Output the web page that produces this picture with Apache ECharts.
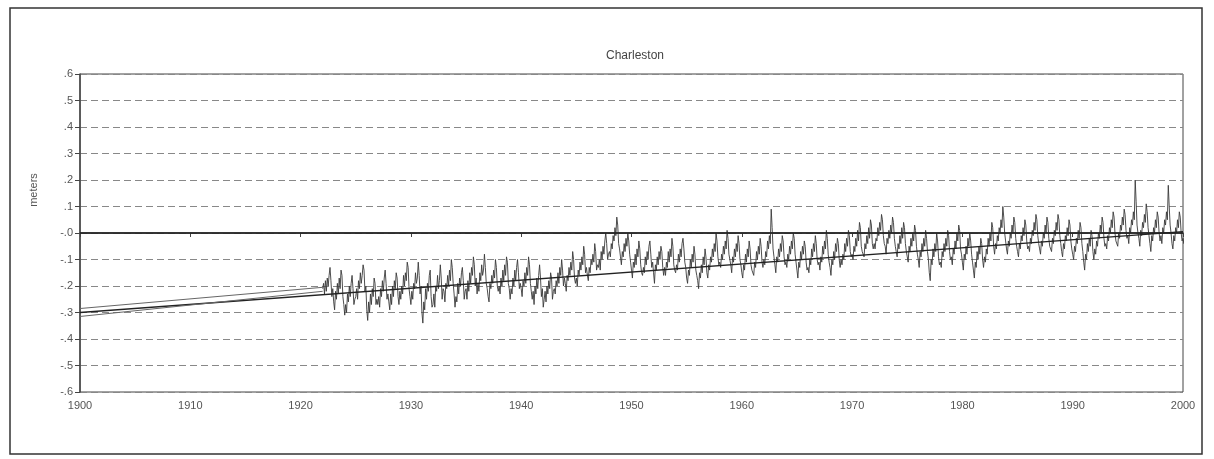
<!DOCTYPE html>
<html>
<head>
<meta charset="utf-8">
<script src="https://cdn.jsdelivr.net/npm/echarts@6/dist/echarts.min.js"></script>
<style>
html,body{margin:0;padding:0;background:#fff;}
#chart{width:1214px;height:459px;}
</style>
</head>
<body>
<div id="chart"></div>
<script>
// Monthly mean sea level, metres, starting January 1922
var startYear = 1922;
var perYear = 12;
var sl1920s = [
 -.21,-.19,-.23,-.18,-.22,-.17,-.20,-.16,-.13,-.18,-.24,-.21,
 -.26,-.29,-.22,-.25,-.19,-.23,-.17,-.21,-.14,-.16,-.24,-.27,
 -.31,-.27,-.30,-.23,-.26,-.20,-.24,-.19,-.16,-.21,-.27,-.25,
 -.24,-.21,-.25,-.18,-.21,-.15,-.19,-.16,-.12,-.14,-.22,-.20,
 -.29,-.33,-.26,-.30,-.23,-.27,-.21,-.24,-.17,-.19,-.27,-.25,
 -.27,-.24,-.28,-.21,-.24,-.18,-.22,-.17,-.14,-.19,-.25,-.23,
 -.26,-.29,-.23,-.27,-.20,-.24,-.18,-.21,-.15,-.17,-.24,-.27,
 -.22,-.25,-.20,-.23,-.16,-.20,-.15,-.18,-.11,-.13,-.21,-.24
];
var sl1930s = [
 -.27,-.22,-.25,-.19,-.21,-.15,-.19,-.17,-.11,-.16,-.23,-.20,
 -.30,-.34,-.26,-.29,-.21,-.25,-.19,-.22,-.16,-.14,-.24,-.28,
 -.27,-.23,-.28,-.20,-.22,-.16,-.21,-.18,-.12,-.17,-.25,-.21,
 -.22,-.26,-.19,-.21,-.16,-.20,-.14,-.18,-.10,-.13,-.19,-.23,
 -.28,-.24,-.26,-.19,-.23,-.17,-.20,-.15,-.13,-.18,-.25,-.22,
 -.21,-.25,-.18,-.22,-.15,-.19,-.13,-.16,-.09,-.12,-.20,-.17,
 -.23,-.19,-.22,-.15,-.18,-.12,-.16,-.14,-.08,-.13,-.19,-.21,
 -.24,-.26,-.19,-.21,-.16,-.19,-.14,-.17,-.10,-.13,-.20,-.22,
 -.20,-.23,-.17,-.20,-.14,-.18,-.12,-.16,-.09,-.11,-.19,-.21,
 -.25,-.21,-.23,-.17,-.20,-.14,-.18,-.13,-.10,-.15,-.21,-.19
];
var sl1940s = [
 -.21,-.24,-.18,-.20,-.15,-.19,-.13,-.16,-.09,-.12,-.19,-.22,
 -.25,-.22,-.27,-.20,-.23,-.17,-.21,-.16,-.12,-.17,-.24,-.21,
 -.28,-.25,-.22,-.26,-.20,-.23,-.18,-.21,-.15,-.17,-.25,-.22,
 -.21,-.23,-.18,-.20,-.15,-.19,-.13,-.16,-.10,-.14,-.20,-.17,
 -.19,-.22,-.16,-.18,-.13,-.16,-.11,-.14,-.07,-.10,-.17,-.19,
 -.17,-.20,-.14,-.16,-.11,-.14,-.09,-.12,-.05,-.08,-.15,-.13,
 -.16,-.18,-.13,-.15,-.10,-.12,-.08,-.11,-.04,-.07,-.14,-.12,
 -.13,-.10,-.14,-.07,-.10,-.05,-.08,-.03,.00,-.04,-.10,-.08,
 -.07,-.09,-.04,-.06,-.01,-.03,.02,-.01,.06,.03,-.04,-.06,
 -.09,-.12,-.07,-.09,-.04,-.07,-.02,-.05,.00,-.03,-.08,-.11
];
var sl1950s = [
 -.14,-.17,-.11,-.13,-.08,-.12,-.06,-.09,-.03,-.06,-.12,-.15,
 -.16,-.13,-.15,-.09,-.12,-.07,-.10,-.05,-.03,-.08,-.13,-.11,
 -.15,-.19,-.12,-.14,-.09,-.12,-.07,-.10,-.05,-.07,-.13,-.16,
 -.13,-.16,-.11,-.13,-.07,-.11,-.06,-.09,-.02,-.05,-.12,-.14,
 -.15,-.12,-.14,-.08,-.11,-.06,-.09,-.04,-.02,-.06,-.11,-.13,
 -.17,-.19,-.14,-.16,-.10,-.13,-.08,-.11,-.05,-.08,-.14,-.16,
 -.18,-.21,-.15,-.17,-.12,-.15,-.09,-.12,-.06,-.09,-.15,-.17,
 -.12,-.14,-.09,-.11,-.06,-.09,-.04,-.07,.00,-.03,-.09,-.12,
 -.11,-.13,-.08,-.10,-.05,-.08,-.03,-.06,.01,-.02,-.08,-.10,
 -.12,-.15,-.09,-.11,-.06,-.09,-.04,-.07,-.01,-.04,-.10,-.12
];
var sl1960s = [
 -.15,-.17,-.12,-.14,-.08,-.11,-.06,-.09,-.03,-.06,-.12,-.14,
 -.14,-.16,-.11,-.13,-.07,-.10,-.05,-.08,-.02,-.05,-.11,-.13,
 -.10,-.12,-.07,-.09,-.03,-.06,-.01,-.04,.09,.02,-.06,-.09,
 -.12,-.15,-.09,-.11,-.06,-.09,-.04,-.07,-.01,-.03,-.09,-.12,
 -.11,-.13,-.08,-.10,-.05,-.08,-.03,-.06,.00,-.02,-.08,-.11,
 -.14,-.17,-.11,-.13,-.07,-.10,-.05,-.08,-.03,-.05,-.11,-.14,
 -.13,-.15,-.10,-.12,-.06,-.09,-.04,-.07,-.01,-.04,-.10,-.12,
 -.11,-.14,-.09,-.11,-.05,-.08,-.03,-.06,.01,-.02,-.08,-.11,
 -.13,-.16,-.10,-.12,-.07,-.10,-.04,-.07,-.02,-.04,-.10,-.13,
 -.10,-.12,-.08,-.10,-.04,-.07,-.02,-.05,.01,-.01,-.07,-.09
];
var sl1970s = [
 -.08,-.10,-.05,-.07,-.02,-.05,.01,-.03,.04,.02,-.05,-.07,
 -.07,-.09,-.04,-.06,-.01,-.04,.02,-.02,.05,.03,-.04,-.06,
 -.04,-.06,-.02,-.03,.02,-.01,.04,.01,.07,.05,-.01,-.04,
 -.05,-.08,-.02,-.04,.01,-.02,.03,.00,.06,.04,-.02,-.05,
 -.07,-.09,-.04,-.06,-.01,-.04,.02,-.02,.04,.02,-.04,-.07,
 -.09,-.11,-.05,-.07,-.02,-.05,.00,-.03,.03,.01,-.05,-.08,
 -.10,-.13,-.07,-.09,-.04,-.07,-.02,-.05,.01,-.02,-.07,-.10,
 -.15,-.18,-.10,-.12,-.06,-.09,-.04,-.07,.00,-.03,-.09,-.12,
 -.11,-.13,-.07,-.09,-.04,-.07,-.02,-.05,.01,-.01,-.07,-.10,
 -.09,-.12,-.06,-.08,-.03,-.06,.00,-.03,.03,.01,-.06,-.08
];
var sl1980s = [
 -.11,-.14,-.08,-.10,-.05,-.08,-.02,-.05,.00,-.03,-.08,-.11,
 -.14,-.17,-.11,-.13,-.07,-.10,-.05,-.08,-.02,-.04,-.10,-.13,
 -.09,-.11,-.06,-.08,-.02,-.05,.00,-.03,.04,.02,-.05,-.08,
 -.04,-.06,-.01,-.03,.02,.00,.05,.02,.10,.06,.00,-.03,
 -.06,-.08,-.03,-.05,.00,-.02,.03,.00,.06,.04,-.02,-.05,
 -.07,-.09,-.04,-.06,-.01,-.03,.02,-.01,.05,.03,-.03,-.06,
 -.05,-.07,-.02,-.04,.01,-.01,.04,.01,.07,.05,-.01,-.04,
 -.06,-.08,-.03,-.05,.00,-.02,.03,.00,.06,.04,-.02,-.05,
 -.05,-.07,-.02,-.04,.01,-.01,.04,.01,.07,.05,-.01,-.04,
 -.07,-.09,-.04,-.06,-.01,-.03,.02,-.01,.05,.03,-.03,-.06
];
var sl1990s = [
 -.08,-.10,-.05,-.07,-.02,-.04,.01,-.02,.04,.02,-.04,-.07,
 -.11,-.14,-.08,-.10,-.04,-.07,-.02,-.05,.01,-.01,-.07,-.10,
 -.06,-.08,-.03,-.05,.00,-.02,.03,.00,.06,.04,-.02,-.05,
 -.04,-.06,-.01,-.03,.02,.00,.05,.02,.08,.06,.00,-.03,
 -.03,-.05,.00,-.02,.03,.01,.06,.03,.09,.07,.01,-.02,
 -.01,-.04,.02,.00,.05,.03,.08,.05,.20,.12,.03,.00,
 -.02,-.05,.01,-.01,.04,.02,.07,.04,.11,.08,.02,-.01,
 -.04,-.07,-.01,-.03,.02,.00,.05,.02,.08,.06,.00,-.03,
 -.01,-.04,.02,.00,.05,.03,.08,.05,.18,.10,.03,.00,
 -.04,-.06,-.01,-.03,.02,.00,.05,.02,.08,.06,.00,-.03,
 -.02,-.04,.01
];
// Linear trend and its spread back to 1900
var trendYears = [1900, 2000];
var trendValues = [-0.30, 0.005];
var bandYears = [1900, 1922];
var bandUpper = [-0.285, -0.205];
var bandLower = [-0.315, -0.22];

var allLevels = [].concat(sl1920s, sl1930s, sl1940s, sl1950s, sl1960s, sl1970s, sl1980s, sl1990s);
var levelData = allLevels.map(function (v, i) { return [startYear + i / perYear, v]; });
function pairs(xs, ys) { return xs.map(function (x, i) { return [x, ys[i]]; }); }

function yLabel(v) {
  var r = Math.round(v * 10);
  if (r === 0) return '-.0';
  return (r < 0 ? '-' : '') + '.' + Math.abs(r);
}

var chart = echarts.init(document.getElementById('chart'), null, {renderer: 'canvas'});
var font = 'Liberation Sans';
chart.setOption({
  animation: false,
  backgroundColor: '#fff',
  title: {
    text: 'Charleston', left: 630, top: 45, textAlign: 'center',
    textStyle: {fontFamily: font, fontSize: 12, fontWeight: 'normal', color: '#444'}
  },
  graphic: [
    {type: 'rect', shape: {x: 10, y: 8, width: 1192, height: 446}, style: {fill: 'none', stroke: '#333', lineWidth: 1.5}, silent: true},
    {type: 'text', x: 34, y: 190, rotation: Math.PI / 2, style: {text: 'meters', fontFamily: font, fontSize: 11, fill: '#555', textAlign: 'center', textVerticalAlign: 'middle'}}
  ],
  grid: {left: 80, right: 31, top: 74, bottom: 67, show: true, borderColor: '#444', borderWidth: 1},
  xAxis: {
    type: 'value', min: 1900, max: 2000, interval: 10,
    axisLine: {show: true, lineStyle: {color: '#444', width: 1.5}},
    axisTick: {show: true, length: 4, lineStyle: {color: '#444'}},
    axisLabel: {fontFamily: font, fontSize: 11, color: '#555', margin: 8, formatter: function (v) { return String(v); }},
    splitLine: {show: false}
  },
  yAxis: {
    type: 'value', min: -0.6, max: 0.6, interval: 0.1,
    axisLine: {show: true, lineStyle: {color: '#444', width: 1.5}},
    axisTick: {show: true, length: 5, lineStyle: {color: '#444'}},
    axisLabel: {fontFamily: font, fontSize: 11, color: '#555', margin: 7, formatter: yLabel},
    splitLine: {show: true, lineStyle: {color: '#888', type: [7, 4], width: 1}}
  },
  series: [
    {
      type: 'line', data: levelData, showSymbol: false, symbol: 'none',
      lineStyle: {color: '#3a3a3a', width: 0.9}, z: 3,
      markLine: {
        silent: true, symbol: 'none', label: {show: false},
        lineStyle: {color: '#222', type: 'solid', width: 1.6},
        data: [{yAxis: 0}]
      }
    },
    {type: 'line', data: pairs(trendYears, trendValues), showSymbol: false, symbol: 'none', lineStyle: {color: '#222', width: 1.4}, z: 4},
    {type: 'line', data: pairs(bandYears, bandUpper), showSymbol: false, symbol: 'none', lineStyle: {color: '#666', width: 1}, z: 4},
    {type: 'line', data: pairs(bandYears, bandLower), showSymbol: false, symbol: 'none', lineStyle: {color: '#666', width: 1}, z: 4}
  ]
});
</script>
</body>
</html>
